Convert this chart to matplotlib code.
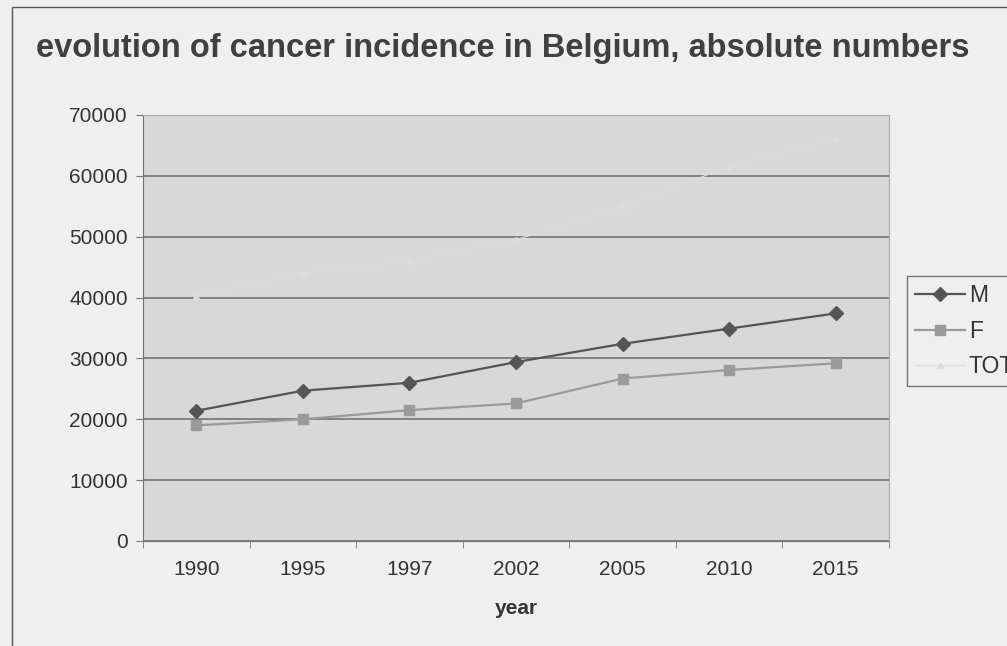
import matplotlib.pyplot as plt
from matplotlib.patches import Rectangle
import numpy as np

plt.rcParams['font.family'] = ['Liberation Sans', 'DejaVu Sans']

years = ["1990", "1995", "1997", "2002", "2005", "2010", "2015"]
male = [21400, 24700, 26000, 29400, 32400, 34900, 37400]
female = [19000, 20000, 21500, 22600, 26700, 28100, 29200]
total = [40300, 44000, 46000, 49500, 55000, 61500, 66000]

fig_bg = "#efefef"
plot_bg = "#d8d8d8"
txt = "#333333"

fig = plt.figure(figsize=(10.07, 6.46), dpi=100, facecolor=fig_bg)
ax = fig.add_axes([143/1007, 1 - 541/646, 746/1007, 426/646])
ax.set_facecolor(plot_bg)

x = np.arange(len(years))
ax.plot(x, male, color="#555555", lw=1.6, marker="D", ms=7, label="M", zorder=4)
ax.plot(x, female, color="#9a9a9a", lw=1.6, marker="s", ms=7, label="F", zorder=4)
ax.plot(x, total, color="#dcdcdc", lw=0.8, marker="^", ms=5, label="TOT", zorder=3)

ax.set_xlim(-0.5, len(years) - 0.5)
ax.set_ylim(0, 70000)
ax.set_yticks(range(0, 70001, 10000))
ax.yaxis.grid(True, color="#6a6a6a", lw=1.1)
ax.set_axisbelow(True)

# category labels centred, tick marks on the boundaries
ax.set_xticks(x)
ax.set_xticklabels(years)
ax.set_xticks(np.arange(-0.5, len(years)), minor=True)
ax.tick_params(axis="x", which="major", length=0, pad=14, labelsize=15, labelcolor=txt)
ax.tick_params(axis="x", which="minor", length=5, color="#777777")
ax.tick_params(axis="y", length=5, color="#777777", labelsize=15, labelcolor=txt, pad=6)

for side in ["top", "right"]:
    ax.spines[side].set_color("#a8a8a8")
for side in ["left", "bottom"]:
    ax.spines[side].set_color("#707070")

ax.set_xlabel("year", fontsize=15, fontweight="bold", color=txt, labelpad=14)

fig.text(0.499, 1 - 48/646, "evolution of cancer incidence in Belgium, absolute numbers",
         ha="center", va="center", fontsize=23.5, fontweight="bold", color="#404040")

leg = fig.legend(loc="upper left", bbox_to_anchor=(907/1007, 1 - 276/646),
                 fontsize=16.5, frameon=True, fancybox=False, handlelength=2.2,
                 borderpad=0.35, labelspacing=0.55, handletextpad=0.15, borderaxespad=0)
leg.get_frame().set_edgecolor("#555555")
leg.get_frame().set_facecolor(fig_bg)
leg.get_frame().set_linewidth(1.0)
for t in leg.get_texts():
    t.set_color(txt)

# outer chart frame
fig.patches.append(Rectangle((12/1007, -0.1), 1.2, 1 - 7/646 + 0.1, transform=fig.transFigure,
                             fill=False, edgecolor="#555555", lw=1.0))

fig.savefig("out.png", dpi=100, facecolor=fig_bg)
